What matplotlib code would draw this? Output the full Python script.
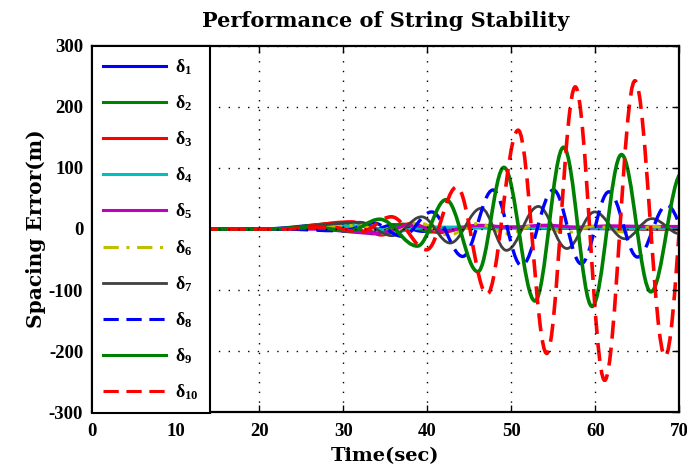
import matplotlib
matplotlib.use('Agg')
import matplotlib.pyplot as plt
from matplotlib.path import Path
from matplotlib.patches import PathPatch
from matplotlib.lines import Line2D

plt.rcParams['mathtext.default'] = 'regular'
plt.rcParams['axes.unicode_minus'] = False

# turning points (time [s], spacing error [m])
# the curve between two neighbouring points is a flat-tangent half wave
t1 = [0, 20, 29, 32.5, 36, 39.5, 43, 70]
e1 = [0, 0, 8, -6, 7, -4, 2, 0]
t2 = [0, 21, 30, 33.5, 37, 40.5, 44, 70]
e2 = [0, 0, 10, -8, 8, -5, 3, 0]
t3 = [0, 22, 31, 34.5, 38, 41.5, 45, 70]
e3 = [0, 0, 12, -10, 9, -6, 3, 0]
t4 = [0, 24, 32, 36, 40, 70]
e4 = [0, 0, 5, -4, 3, 1]
t5 = [0, 26, 34, 38, 42, 46, 50, 54, 58, 62, 66, 70]
e5 = [0, 0, -7, 6, -3, 6, 3, 6, 3, 5, 4, 4]
t6 = [0, 24, 32, 35.5, 39, 42.5, 46, 49.5, 53, 56.5, 60, 63.5, 67, 70.5]
e6 = [0, 0, 6, -9, 10, -10, 9, -8, 7, -6, 5, -5, 4, -3]
t7 = [0, 22, 32, 35.8, 39.3, 42.7, 46.4, 49.4, 53.2, 56.6, 59.9, 63.5, 66.7, 70.1]
e7 = [0, 0, 11, -11, 20, -23, 34, -35, 37, -32, 28, -16, 17, -8]
t8 = [0, 22, 30, 33.5, 37, 40.5, 44.2, 47.8, 51.2, 55.0, 58.3, 61.6, 65.0, 68.5, 71.8]
e8 = [0, 0, -3, 10, -12, 28, -45, 64, -60, 64, -57, 61, -46, 39, -35]
t9 = [0, 20, 27, 30.7, 34.3, 38.8, 42.2, 46.0, 49.1, 52.8, 56.2, 59.6, 63.1, 66.6, 70.3]
e9 = [0, 0, 2, -3, 16, -28, 48, -70, 101, -118, 134, -127, 122, -103, 92]
t10 = [0, 22, 28.5, 32, 35.7, 39.9, 43.5, 47.1, 50.8, 54.2, 57.6, 61.1, 64.7, 68.3, 71.8]
e10 = [0, 0, 3, -5, 20, -34, 69, -107, 162, -204, 233, -248, 243, -209, 235]

series = [(t1, e1), (t2, e2), (t3, e3), (t4, e4), (t5, e5),
          (t6, e6), (t7, e7), (t8, e8), (t9, e9), (t10, e10)]
labels = ['δ$_{%d}$' % i for i in range(1, 11)]

colors = ['#0000ff', '#008000', '#ff0000', '#00bfbf', '#bf00bf',
          '#bfbf00', '#404040', '#0000ff', '#008000', '#ff0000']
dashed = (0, (5, 2.5))
dashdot = (0, (5, 2.5, 1, 2.5))
styles = ['-', '-', '-', '-', '-', dashdot, '-', dashed, '-', dashed]
widths = [2.2, 2.2, 2.2, 2.4, 2.4, 2.2, 2.0, 2.4, 2.6, 2.6]


def wave_path(t, e, k=0.3634):
    verts = [(t[0], e[0])]
    codes = [Path.MOVETO]
    for i in range(len(t) - 1):
        dt = t[i + 1] - t[i]
        verts += [(t[i] + k * dt, e[i]), (t[i + 1] - k * dt, e[i + 1]),
                  (t[i + 1], e[i + 1])]
        codes += [Path.CURVE4] * 3
    return Path(verts, codes)


fig = plt.figure(figsize=(6.87, 4.75), dpi=100)
ax = fig.add_axes([0.1332, 0.1326, 0.8558, 0.7706])

handles = []
for (t, e), c, ls, lw in zip(series, colors, styles, widths):
    p = PathPatch(wave_path(t, e), fill=False, edgecolor=c, linewidth=lw,
                  linestyle=ls, capstyle='butt', joinstyle='round')
    ax.add_patch(p)
    handles.append(Line2D([], [], color=c, linewidth=min(lw, 2.2), linestyle=ls))

ax.set_xlim(0, 70)
ax.set_ylim(-300, 300)
ax.set_xticks(range(0, 71, 10))
ax.set_yticks(range(-300, 301, 100))
ax.grid(True, color='k', linestyle=(0, (1, 6)), linewidth=1)
ax.tick_params(direction='in', length=5, width=1, top=True, right=True,
               labelsize=13.5)
ax.tick_params(axis='x', pad=8)
ax.tick_params(axis='y', pad=6)
for lab in ax.get_xticklabels() + ax.get_yticklabels():
    lab.set_fontfamily('Liberation Serif')
    lab.set_fontweight('bold')
for s in ax.spines.values():
    s.set_linewidth(1.6)

ax.set_title('Performance of String Stability', fontsize=15,
             fontfamily='DejaVu Serif', fontweight='bold', pad=14)
ax.set_xlabel('Time(sec)', fontsize=14, fontfamily='DejaVu Serif',
              fontweight='bold', labelpad=5)
ax.set_ylabel('Spacing Error(m)', fontsize=14.5, fontfamily='DejaVu Serif',
              fontweight='bold', labelpad=2)

leg = ax.legend(handles, labels, loc='upper left', bbox_to_anchor=(0, 1),
                borderaxespad=0, fancybox=False, edgecolor='k', framealpha=1,
                handlelength=3.5, handletextpad=0.5, labelspacing=0.91,
                borderpad=0.62,
                prop={'family': 'Liberation Serif', 'weight': 'bold', 'size': 13})
leg.get_frame().set_linewidth(1.5)

fig.savefig('out.png', dpi=100)
